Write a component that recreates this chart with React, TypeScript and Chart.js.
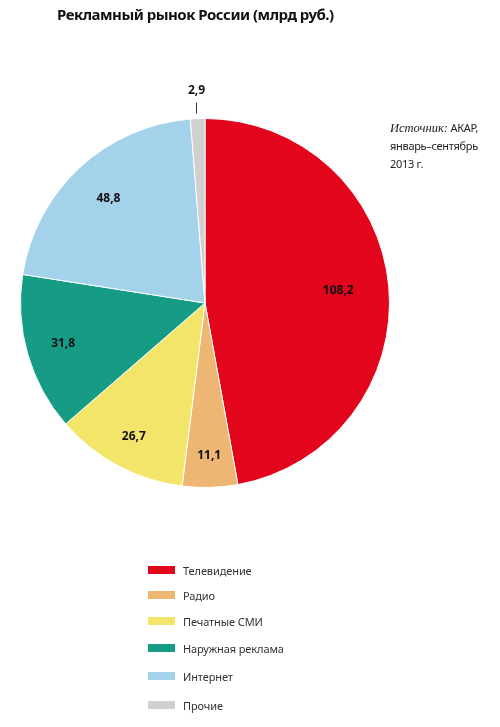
import React, { useEffect, useRef } from "react";
import { Chart, registerables } from "chart.js";

Chart.register(...registerables);

const categories = ["Телевидение", "Радио", "Печатные СМИ", "Наружная реклама", "Интернет", "Прочие"];
const values = [108.2, 11.1, 26.7, 31.8, 48.8, 2.9];
const valueLabels = ["108,2", "11,1", "26,7", "31,8", "48,8", "2,9"];
const colors = ["#e3051b", "#eeb673", "#f3e46a", "#169b84", "#a4d2ea", "#d0d0d0"];
// label distance as fraction of radius (style); negative = outside with leader line
const labelRadius = [0.725, 0.83, 0.82, 0.8, 0.77, -1];

const FONT = "'Noto Sans', sans-serif";

export default function App() {
  const ref = useRef<HTMLCanvasElement>(null);
  useEffect(() => {
    document.body.style.margin = "0";
    const labelPlugin = {
      id: "vals",
      afterDatasetsDraw(chart: any) {
        const ctx = chart.ctx;
        const meta = chart.getDatasetMeta(0);
        ctx.save();
        ctx.font = `bold 12px ${FONT}`;
        ctx.fillStyle = "#111";
        ctx.textAlign = "center";
        ctx.textBaseline = "middle";
        meta.data.forEach((arc: any, i: number) => {
          const p = arc.getProps(["x", "y", "startAngle", "endAngle", "outerRadius"], true);
          const mid = (p.startAngle + p.endAngle) / 2;
          const f = labelRadius[i];
          if (f > 0) {
            const r = p.outerRadius * f;
            ctx.fillText(valueLabels[i], p.x + Math.cos(mid) * r, p.y + Math.sin(mid) * r);
          } else {
            const x0 = p.x + Math.cos(mid) * (p.outerRadius + 5);
            const y0 = p.y + Math.sin(mid) * (p.outerRadius + 5);
            ctx.strokeStyle = "#333";
            ctx.lineWidth = 1;
            ctx.beginPath();
            ctx.moveTo(Math.round(x0) - 0.5, y0);
            ctx.lineTo(Math.round(x0) - 0.5, y0 - 11);
            ctx.stroke();
            ctx.fillText(valueLabels[i], x0 - 1, y0 - 23);
          }
        });
        ctx.restore();
      },
    };
    const chart = new Chart(ref.current!, {
      type: "pie",
      data: {
        labels: categories,
        datasets: [
          {
            data: values,
            backgroundColor: colors,
            borderColor: "#ffffff",
            borderWidth: 1,
          },
        ],
      },
      options: {
        responsive: false,
        animation: false,
        layout: { padding: { left: 20, right: 110, top: 118, bottom: 239 } },
        plugins: { legend: { display: false }, tooltip: { enabled: false } },
      },
      plugins: [labelPlugin],
    });
    return () => chart.destroy();
  }, []);

  const legendCenters = [570, 595, 621, 648, 676, 705];
  return (
    <div style={{ position: "absolute", left: 0, top: 0, width: 500, height: 727, background: "#fff", fontFamily: FONT }}>
      <canvas ref={ref} width={500} height={727} style={{ position: "absolute", left: 0, top: 0 }} />
      <div style={{ position: "absolute", left: 57, top: 4, fontSize: 15, fontWeight: 700, letterSpacing: -0.5, color: "#111", whiteSpace: "nowrap", lineHeight: "20px" }}>
        Рекламный рынок России (млрд руб.)
      </div>
      <div style={{ position: "absolute", left: 390, top: 119, fontSize: 11, letterSpacing: -0.3, lineHeight: "18px", color: "#222", whiteSpace: "nowrap" }}>
        <span style={{ fontFamily: "'Liberation Serif', serif", fontStyle: "italic", fontSize: 12.5, letterSpacing: 0 }}>Источник:</span> АКАР,
        <br />январь–сентябрь
        <br />2013 г.
      </div>
      {categories.map((c, i) => (
        <div key={c} style={{ position: "absolute", left: 148, top: legendCenters[i] - 8, height: 16, display: "flex", alignItems: "center", whiteSpace: "nowrap" }}>
          <div style={{ width: 27, height: 8, background: colors[i], marginRight: 8 }} />
          <span style={{ fontSize: 11, letterSpacing: -0.1, color: "#333" }}>{c}</span>
        </div>
      ))}
    </div>
  );
}
